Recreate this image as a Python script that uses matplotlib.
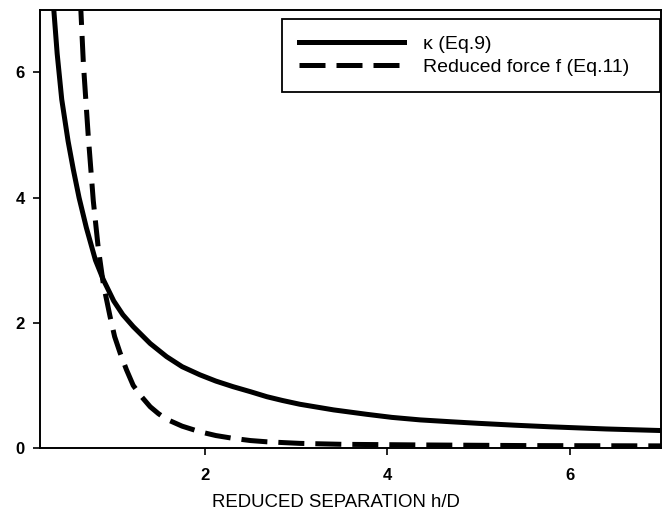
import matplotlib
matplotlib.use('Agg')
import matplotlib.pyplot as plt

# Values
kappa_x = [0.33, 0.38, 0.43, 0.50, 0.557, 0.62, 0.70, 0.80, 0.886, 1.0, 1.1, 1.214,
           1.4, 1.58, 1.75, 1.945, 2.12, 2.31, 2.5, 2.68, 2.85, 3.04, 3.41, 3.77,
           4.05, 4.36, 4.7, 5.0, 5.4, 5.78, 6.4, 7.0]
kappa_y = [7.25, 6.3, 5.57, 4.9, 4.45, 4.0, 3.52, 3.0, 2.69, 2.35, 2.13, 1.94,
           1.67, 1.46, 1.30, 1.17, 1.07, 0.98, 0.90, 0.82, 0.76, 0.70, 0.61, 0.54,
           0.49, 0.45, 0.42, 0.395, 0.365, 0.34, 0.305, 0.28]

force_x = [0.625, 0.667, 0.72, 0.776, 0.83, 0.886, 0.96, 1.01, 1.07, 1.14, 1.214, 1.3,
           1.4, 1.49, 1.58, 1.75, 1.945, 2.12, 2.31, 2.5, 2.68, 3.04, 3.5, 4.36, 5.5, 7.0]
force_y = [7.45, 6.15, 5.0, 3.95, 3.2, 2.62, 2.10, 1.78, 1.52, 1.25, 1.0, 0.83,
           0.66, 0.55, 0.46, 0.35, 0.26, 0.20, 0.155, 0.12, 0.10, 0.075, 0.06, 0.05, 0.04, 0.035]

x_ticks = [2, 4, 6]
y_ticks = [0, 2, 4, 6]

plt.rcParams['font.family'] = ['Liberation Sans', 'DejaVu Sans']

fig = plt.figure(figsize=(6.64, 5.18), dpi=100)
ax = fig.add_axes([0.060, 0.135, 0.9355, 0.846])

ax.plot(kappa_x, kappa_y, color='black', lw=3.6, label='\u03ba (Eq.9)')
ax.plot(force_x, force_y, color='black', lw=3.6, dashes=(5.2, 2.2),
        label='Reduced force f (Eq.11)')

ax.set_xlim(0.19, 7.0)
ax.set_ylim(0, 7.0)
ax.set_xticks(x_ticks)
ax.set_yticks(y_ticks)
ax.tick_params(direction='out', length=5, width=1.2, labelsize=12)
ax.tick_params(axis='x', pad=9)
ax.tick_params(axis='y', pad=6)
for lab in ax.get_xticklabels() + ax.get_yticklabels():
    lab.set_fontweight('bold')
for sp in ax.spines.values():
    sp.set_linewidth(1.4)

ax.set_xlabel('REDUCED SEPARATION h/D', fontsize=13.4)
ax.xaxis.set_label_coords(0.477, -0.105)

# Legend box stretched over the upper right part of the plot
leg = ax.legend(loc='upper left', mode='expand',
                bbox_to_anchor=(282 / 664, 1 - 19 / 518, 378 / 664, 0),
                bbox_transform=fig.transFigure, fontsize=14, handlelength=5.4,
                handletextpad=1.0, borderpad=0.85, labelspacing=0.25,
                fancybox=False, edgecolor='black', framealpha=1,
                borderaxespad=0)
leg.get_frame().set_linewidth(1.3)

fig.savefig('out.png', dpi=100)
